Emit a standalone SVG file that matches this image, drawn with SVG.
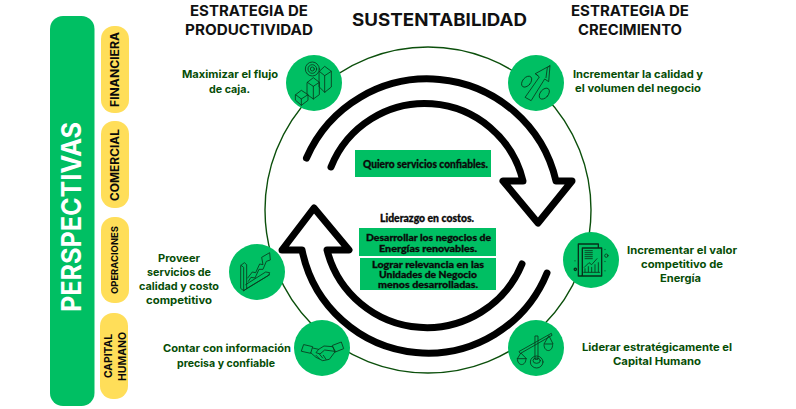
<svg xmlns="http://www.w3.org/2000/svg" width="796" height="409" viewBox="0 0 796 409">
<style>
text{font-family:"Inter","Liberation Sans",sans-serif;font-weight:700}
.h{font-size:14.5px;fill:#111}
.t{font-size:10.5px;fill:#064d06}
.p{fill:#ffde59}
.pt{font-size:11.5px;fill:#0a0a0a}
.b{fill:#00bf63}
.k{font-family:"Lato","Liberation Sans",sans-serif;font-weight:900;font-size:9.5px;fill:#0a0a0a;stroke:#0a0a0a;stroke-width:.3}
.ring{fill:none;stroke:#0b4f0b;stroke-width:1.4}
.arr{fill:none;stroke:#000;stroke-width:7;stroke-linecap:round;stroke-linejoin:round}
.ic{fill:none;stroke:#0a3a1e;stroke-width:2.6;stroke-linejoin:round;stroke-linecap:round}
.ic2{fill:none;stroke:#06301a;stroke-width:4;stroke-linejoin:round;stroke-linecap:round}
</style>
<g id="perspectivas">
<rect class="b" x="50" y="16" width="44.500" height="390" rx="13"/>
<text transform="translate(81,312) rotate(-90)" textLength="190" lengthAdjust="spacingAndGlyphs" font-size="26.500" fill="#fff">PERSPECTIVAS</text>
</g>
<g id="financiera"><rect class="p" x="101" y="26" width="28" height="87" rx="13"/><text class="pt" transform="translate(118.500,107) rotate(-90)" textLength="75" lengthAdjust="spacingAndGlyphs">FINANCIERA</text></g>
<g id="comercial"><rect class="p" x="101" y="121" width="28" height="87" rx="13"/><text class="pt" transform="translate(118.500,201) rotate(-90)" textLength="72" lengthAdjust="spacingAndGlyphs">COMERCIAL</text></g>
<g id="operaciones"><rect class="p" x="101" y="217" width="28" height="86" rx="13"/><text class="pt" style="font-size:9.500px" transform="translate(118.300,294) rotate(-90)" textLength="68" lengthAdjust="spacingAndGlyphs">OPERACIONES</text></g>
<g id="capital-humano"><rect class="p" x="100" y="313" width="28" height="86" rx="13"/><text class="pt" style="font-size:10.500px" transform="translate(111.700,378) rotate(-90)" textLength="44" lengthAdjust="spacingAndGlyphs">CAPITAL</text><text class="pt" style="font-size:10.500px" transform="translate(126,381) rotate(-90)" textLength="49" lengthAdjust="spacingAndGlyphs">HUMANO</text></g>

<g id="titles">
<text class="h" x="190" y="15.500" textLength="118" lengthAdjust="spacingAndGlyphs">ESTRATEGIA DE</text>
<text class="h" x="185" y="35" textLength="128" lengthAdjust="spacingAndGlyphs">PRODUCTIVIDAD</text>
<text class="h" style="font-size:17.500px" x="352" y="26" textLength="175" lengthAdjust="spacingAndGlyphs">SUSTENTABILIDAD</text>
<text class="h" x="571" y="15.500" textLength="118" lengthAdjust="spacingAndGlyphs">ESTRATEGIA DE</text>
<text class="h" x="578" y="35" textLength="104" lengthAdjust="spacingAndGlyphs">CRECIMIENTO</text>
</g>

<g id="connectors">
<circle class="ring" cx="428" cy="210" r="163"/>
<path class="arr" d="M306.500,158 A132,132 0 0 1 556,181 H572 L538,223 L503,181 H523 A101,101 0 0 0 331,167"/>
<path class="arr" d="M547,273 A128.500,128.500 0 0 1 302,250 H282 L314,208 L349,250 H327 A103,103 0 0 0 522,264"/>
</g>

<g id="n-productividad"><circle class="b" cx="314" cy="83" r="28"/>
<g transform="translate(284,53) scale(.3333)"><path class="ic" d="M35,125L52,112L72,125V142L52,157L35,142ZM35,125L52,138L72,125M52,138V157M70,88L88,74L106,88V125L88,138L70,125ZM70,88L88,100L106,88M88,100V138M106,55L122,40L142,55V102L122,118L106,102ZM106,55L122,68L142,55M122,68V118"/><circle class="ic" cx="85" cy="48" r="21"/><circle class="ic" cx="85" cy="48" r="13"/><circle class="ic" cx="85" cy="48" r="6"/></g></g>
<g id="n-crecimiento"><circle class="b" cx="536" cy="83" r="28"/>
<g transform="translate(506,53) scale(.3333)"><path class="ic" d="M58,132L100,72L88,62L132,38L128,86L116,78L76,142ZM132,38L124,44L120,74M88,62L96,68"/><ellipse class="ic" cx="62" cy="86" rx="12" ry="19" transform="rotate(40 62 86)"/><ellipse class="ic" cx="115" cy="122" rx="12" ry="19" transform="rotate(40 115 122)"/></g></g>
<g id="n-energia"><circle class="b" cx="591" cy="260" r="28"/>
<g transform="translate(561,230) scale(.3333)"><path class="ic2" d="M62,138H52V42H112V54M64,54H122V138H64Z"/><path class="ic" d="M72,62H94M72,68H94M72,74H94M72,80H94M72,86H94"/><path class="ic" d="M70,112L84,98L92,104L108,86M72,126V116M82,126V110M92,126V112M102,126V104M112,126V98M68,127H116"/><circle class="ic" cx="136" cy="77" r="5"/><circle class="ic2" cx="43" cy="118" r="3.500"/><path class="ic" d="M132,58v1M132,94v1M42,92v1M132,122v1"/></g></g>
<g id="n-capital"><circle class="b" cx="536" cy="348" r="28"/>
<g transform="translate(506,318) scale(.3333)"><path class="ic" d="M40,100L136,46L138,52L44,106ZM88,54H96V124H88ZM44,106L34,122H60ZM128,54L114,78H140Z"/><path class="ic" d="M34,122C34,146,60,146,60,122M114,80C114,104,140,104,140,80"/><ellipse class="ic" cx="92" cy="132" rx="19" ry="18"/><ellipse class="ic" cx="92" cy="128" rx="11" ry="8"/></g></g>
<g id="n-informacion"><circle class="b" cx="322" cy="348" r="28"/>
<g transform="translate(292,318) scale(.3333)"><path class="ic" d="M36,80L62,86L56,106L29,100ZM122,82L148,72L155,92L130,102ZM62,90L80,94L96,84L122,86L130,100L112,124L92,128L72,118L56,104M80,94L72,104L84,108L98,96L128,100M72,112L82,122M82,108L92,120M94,112L102,124"/></g></g>
<g id="n-proveer"><circle class="b" cx="257" cy="272" r="28"/>
<g transform="translate(227,242) scale(.3333)"><path class="ic" d="M42,70L52,62L59,68V140L50,146L42,140ZM42,70L50,76V146M50,146L125,100L128,92L116,90L56,128M58,140L128,98M62,108L76,90L86,92L98,66L108,68L104,46L128,32L130,54L118,58L108,82L96,82L84,108L72,106L64,118"/></g></g>

<g id="label-flujo"><text class="t" x="182" y="78" textLength="96" lengthAdjust="spacingAndGlyphs">Maximizar el flujo</text><text class="t" x="209" y="92.500" textLength="41" lengthAdjust="spacingAndGlyphs">de caja.</text></g>
<g id="label-calidad"><text class="t" x="573" y="78" textLength="130" lengthAdjust="spacingAndGlyphs">Incrementar la calidad y</text><text class="t" x="575" y="92" textLength="126" lengthAdjust="spacingAndGlyphs">el volumen del negocio</text></g>
<g id="label-valor"><text class="t" x="627" y="254" textLength="110" lengthAdjust="spacingAndGlyphs">Incrementar el valor</text><text class="t" x="641" y="268" textLength="82" lengthAdjust="spacingAndGlyphs">competitivo de</text><text class="t" x="660" y="282" textLength="41" lengthAdjust="spacingAndGlyphs">Energía</text></g>
<g id="label-liderar"><text class="t" x="582" y="351" textLength="150" lengthAdjust="spacingAndGlyphs">Liderar estratégicamente el</text><text class="t" x="613" y="365" textLength="88" lengthAdjust="spacingAndGlyphs">Capital Humano</text></g>
<g id="label-proveer"><text class="t" x="158" y="262" textLength="42" lengthAdjust="spacingAndGlyphs">Proveer</text><text class="t" x="147" y="276" textLength="64" lengthAdjust="spacingAndGlyphs">servicios de</text><text class="t" x="139" y="290" textLength="80" lengthAdjust="spacingAndGlyphs">calidad y costo</text><text class="t" x="146" y="304" textLength="66" lengthAdjust="spacingAndGlyphs">competitivo</text></g>
<g id="label-contar"><text class="t" x="163" y="352" textLength="128" lengthAdjust="spacingAndGlyphs">Contar con información</text><text class="t" x="177" y="367" textLength="98" lengthAdjust="spacingAndGlyphs">precisa y confiable</text></g>

<g id="box-quiero"><rect class="b" x="355" y="150" width="136" height="27"/><text class="k" style="font-size:11px" x="363" y="168" textLength="125" lengthAdjust="spacingAndGlyphs">Quiero servicios confiables.</text></g>
<g id="label-liderazgo"><text class="k" style="font-size:10.500px" x="380" y="222" textLength="94" lengthAdjust="spacingAndGlyphs">Liderazgo en costos.</text></g>
<g id="box-desarrollar"><rect class="b" x="359" y="228" width="137" height="28"/><text class="k" x="366" y="241" textLength="125" lengthAdjust="spacingAndGlyphs">Desarrollar los negocios de</text><text class="k" x="379" y="252" textLength="98" lengthAdjust="spacingAndGlyphs">Energías renovables.</text></g>
<g id="box-lograr"><rect class="b" x="360" y="258" width="136" height="32"/><text class="k" x="372" y="267.500" textLength="112" lengthAdjust="spacingAndGlyphs">Lograr relevancia en las</text><text class="k" x="379" y="277.500" textLength="98" lengthAdjust="spacingAndGlyphs">Unidades de Negocio</text><text class="k" x="378" y="287.500" textLength="100" lengthAdjust="spacingAndGlyphs">menos desarrolladas.</text></g>
</svg>
